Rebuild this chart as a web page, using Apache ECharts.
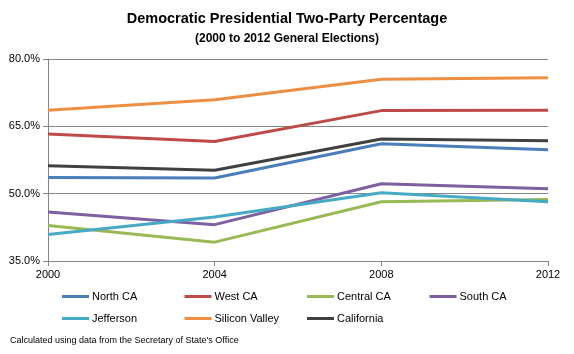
<!DOCTYPE html>
<html><head><meta charset="utf-8">
<script src="https://cdn.jsdelivr.net/npm/echarts@6/dist/echarts.min.js"></script>
<style>html,body{margin:0;padding:0;background:#fff}#c{width:574px;height:354px}</style>
</head><body><div id="c"></div>
<script>
const years = ['2000','2004','2008','2012'];
const northCA = [53.6, 53.5, 61.1, 59.8];
const westCA = [63.3, 61.6, 68.5, 68.6];
const centralCA = [42.9, 39.2, 48.2, 48.7];
const southCA = [45.9, 43.1, 52.2, 51.1];
const jefferson = [40.9, 44.8, 50.2, 48.2];
const siliconValley = [68.6, 70.9, 75.5, 75.8];
const california = [56.2, 55.2, 62.2, 61.8];
const seriesNames = ['North CA','West CA','Central CA','South CA','Jefferson','Silicon Valley','California'];
const seriesData = [northCA, westCA, centralCA, southCA, jefferson, siliconValley, california];
const colors = ['#4A7EBB','#BE4B48','#98B954','#7D60A0','#46AAC5','#EC8F42','#404040'];
const font = 'Liberation Sans';

const chart = echarts.init(document.getElementById('c'));
const legends = seriesNames.map((n, i) => ({
  data: [n], left: 62 + (i % 4) * 122.5, top: (i < 4 ? 298 : 320) - 7, padding: 0,
  itemGap: 0, itemWidth: 27, itemHeight: 3, icon: 'rect',
  textStyle: { fontFamily: font, fontSize: 11, color: '#000', padding: [0,0,0,-2] }
}));
chart.setOption({
  animation: false,
  color: colors,
  title: [
    { text: 'Democratic Presidential Two-Party Percentage', left: 'center', top: 11, padding: 0,
      textStyle: { fontFamily: font, fontSize: 14.5, fontWeight: 'bold', color: '#000' } },
    { text: '(2000 to 2012 General Elections)', left: 'center', top: 33, padding: 0,
      textStyle: { fontFamily: font, fontSize: 12, fontWeight: 'bold', color: '#000' } },
    { text: "Calculated using data from the Secretary of State's Office", left: 10, top: 336, padding: 0,
      textStyle: { fontFamily: font, fontSize: 9, fontWeight: 'normal', color: '#000' } }
  ],
  legend: legends,
  grid: { left: 48, right: 26, top: 59, bottom: 93 },
  xAxis: {
    type: 'category', data: years, boundaryGap: false,
    axisLine: { lineStyle: { color: '#868686' } },
    axisTick: { show: true, alignWithLabel: true, length: 5, lineStyle: { color: '#868686' } },
    axisLabel: { fontFamily: font, fontSize: 11, color: '#000', margin: 8 },
    splitLine: { show: false }
  },
  yAxis: {
    type: 'value', min: 35, max: 80, interval: 15,
    axisLine: { show: true, lineStyle: { color: '#868686' } },
    axisTick: { show: true, length: 5, lineStyle: { color: '#868686' } },
    axisLabel: { fontFamily: font, fontSize: 11, color: '#000', margin: 8,
      formatter: v => v.toFixed(1) + '%' },
    splitLine: { lineStyle: { color: '#868686', width: 1 } }
  },
  series: seriesNames.map((n, i) => ({
    name: n, type: 'line', data: seriesData[i], showSymbol: false, symbol: 'none',
    lineStyle: { width: 3, color: colors[i] }, itemStyle: { color: colors[i] }
  }))
});
</script></body></html>
